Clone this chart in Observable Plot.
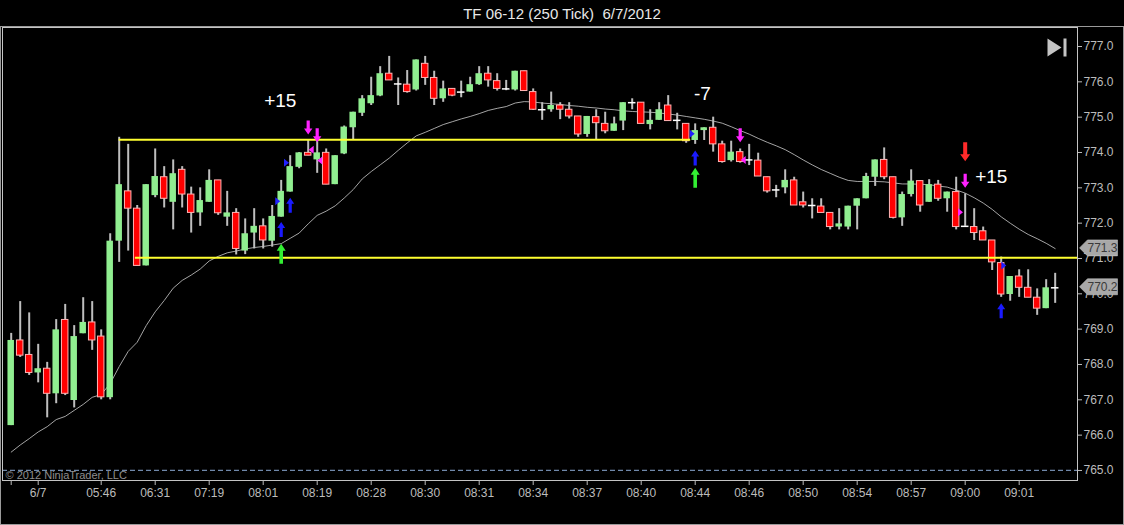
<!DOCTYPE html>
<html><head><meta charset="utf-8">
<script src="https://cdn.jsdelivr.net/npm/d3@7"></script>
<script src="https://cdn.jsdelivr.net/npm/@observablehq/plot@0.6"></script>
<style>
html,body{margin:0;padding:0;background:#000;}
#wrap{position:relative;width:1124px;height:525px;overflow:hidden;background:#000;}
#title{height:26px;line-height:27px;text-align:center;color:#e8e8e8;white-space:pre;font-size:15px;font-family:"Liberation Sans Narrow","Arial Narrow","Liberation Sans",sans-serif;}
#border{position:absolute;left:0;top:26px;width:1122px;height:497px;border:1px solid #9a9a9a;pointer-events:none;}
</style></head><body>
<div id="wrap"><div id="title">TF 06-12 (250 Tick)  6/7/2012</div><div id="chart"></div><div id="border"></div></div>
<script>
const open = [766.27,768.68,768.27,767.76,767.88,767.17,769.26,766.98,768.87,769.19,768.79,767.06,771.49,772.90,772.41,770.79,772.78,773.30,772.59,773.51,772.81,772.29,772.59,773.21,772.17,772.29,771.21,771.72,771.91,771.49,772.17,772.88,773.58,773.99,773.79,773.99,773.09,773.96,774.70,775.11,775.38,775.60,776.23,775.94,775.92,775.77,776.51,776.11,775.52,775.80,775.71,775.71,775.92,776.23,776.02,775.80,775.77,776.30,775.71,775.21,775.21,775.33,775.21,775.02,774.51,775.00,774.81,774.60,774.89,775.41,775.41,774.79,774.91,775.33,774.91,774.81,774.34,774.62,774.70,774.23,773.77,774.01,773.79,773.77,773.30,772.94,773.00,773.21,772.59,772.50,772.47,772.29,771.89,771.89,772.48,772.69,773.30,773.79,773.30,772.15,772.81,773.19,772.59,773.09,772.69,772.88,771.91,771.89,771.77,771.51,770.87,769.98,770.49,770.17,769.89,769.58,770.17];
const high = [768.88,769.78,769.46,768.57,768.06,769.27,769.70,769.10,769.89,769.78,768.98,771.70,774.43,774.23,772.50,773.09,774.10,773.60,773.79,773.60,773.02,773.00,773.51,773.21,772.90,772.41,772.12,772.41,772.12,772.50,773.21,773.91,774.00,774.34,774.34,774.10,773.91,774.75,775.14,775.61,776.13,776.43,776.72,776.11,776.32,776.62,776.72,776.30,776.02,775.80,776.02,776.13,776.43,776.43,776.23,776.04,776.30,776.30,775.80,775.41,775.71,775.41,775.41,775.02,775.02,775.21,775.14,775.00,775.41,775.52,775.41,775.21,775.41,775.61,775.11,774.81,774.81,774.70,775.00,774.32,774.32,774.10,774.23,773.98,773.30,773.07,773.51,773.30,772.88,772.69,772.69,772.29,772.41,772.48,772.69,773.41,773.79,774.13,773.30,772.88,773.51,773.19,773.23,773.21,772.88,773.30,772.83,772.41,771.89,771.51,771.04,770.49,770.68,770.68,770.14,770.40,770.58];
const low = [766.27,768.20,767.69,767.48,766.49,766.89,767.12,766.77,768.87,768.40,767.00,767.00,770.89,771.21,770.79,770.79,772.72,772.43,771.81,772.43,771.72,771.91,772.59,772.22,771.91,771.10,771.11,771.27,771.27,771.32,772.17,772.88,773.54,773.91,773.41,773.09,773.09,773.94,774.36,775.02,775.33,775.58,776.04,775.33,775.68,775.74,775.90,775.33,775.42,775.58,775.55,775.71,775.90,775.85,775.74,775.75,775.74,775.74,775.19,774.91,775.14,774.93,774.95,774.43,774.43,774.34,774.53,774.60,774.62,775.21,774.81,774.64,774.91,774.89,774.64,774.26,774.23,774.34,774.01,773.70,773.73,773.70,773.63,773.32,772.85,772.72,772.83,772.50,772.43,772.12,772.29,771.81,771.81,771.81,771.81,772.69,773.04,773.23,772.12,771.91,772.74,772.31,772.59,772.62,772.31,771.81,771.91,771.51,771.51,770.66,769.90,769.79,769.90,769.89,769.39,769.58,769.73];
const close = [768.68,768.25,767.76,767.88,767.17,768.98,767.17,768.79,769.19,768.68,767.07,771.49,773.09,772.41,770.79,773.09,773.32,772.69,773.40,772.81,772.29,772.64,773.21,772.28,772.29,771.27,771.70,771.91,771.51,772.19,772.90,773.60,773.99,773.91,773.99,773.09,773.91,774.72,775.14,775.52,775.61,776.23,776.04,775.94,775.71,776.62,776.11,775.52,775.80,775.61,775.71,775.92,776.23,776.04,775.80,775.80,776.30,775.74,775.21,775.21,775.33,775.21,775.02,774.51,775.02,774.83,774.60,774.81,775.41,775.41,774.81,774.91,775.21,774.89,774.91,774.32,774.62,774.70,774.23,773.73,774.01,773.73,773.79,773.32,772.90,772.94,773.21,772.50,772.50,772.50,772.29,771.89,771.98,772.48,772.69,773.32,773.79,773.30,772.15,772.81,773.19,772.50,773.09,772.69,772.88,771.89,771.91,771.72,771.51,770.89,769.98,770.49,770.17,769.89,769.58,770.17,770.17];
const sma = [765.52,765.72,765.90,766.09,766.24,766.44,766.53,766.70,766.87,767.07,767.15,767.46,767.94,768.37,768.63,769.10,769.49,769.81,770.16,770.38,770.53,770.70,770.93,771.06,771.16,771.21,771.27,771.31,771.34,771.38,771.42,771.57,771.72,771.98,772.22,772.34,772.49,772.71,772.95,773.25,773.46,773.65,773.84,774.06,774.27,774.47,774.57,774.68,774.79,774.87,774.95,775.02,775.10,775.19,775.25,775.30,775.40,775.44,775.43,775.40,775.38,775.36,775.33,775.31,775.28,775.26,775.23,775.21,775.18,775.16,775.15,775.14,775.12,775.09,775.06,775.02,774.98,774.94,774.89,774.83,774.73,774.62,774.52,774.40,774.29,774.19,774.08,773.94,773.79,773.65,773.52,773.41,773.30,773.21,773.18,773.18,773.18,773.17,773.14,773.11,773.11,773.10,773.09,773.05,773.02,772.94,772.85,772.72,772.57,772.39,772.18,772.00,771.83,771.68,771.56,771.43,771.28];

const xTickBars = [0,3,10,16,22,28,34,40,46,52,58,64,70,76,82,88,94,100,106,112];
const xTickLabels = ["","6/7","05:46","06:31","07:19","08:01","08:19","08:28","08:30","08:31","08:34","08:37","08:40","08:44","08:46","08:50","08:54","08:57","09:00","09:01"];
const yTicks = [765,766,767,768,769,770,771,772,773,774,775,776,777];

const levelPrice = [774.36, 771.02];
const levelFrom = [12, 13.8];
const levelTo = [75.5, 118.48];

const greenUpBar = [30, 76];
const greenUpPrice = [771.42, 773.57];
const blueUpBar = [30, 31, 76, 110];
const blueUpPrice = [772.03, 772.72, 774.06, 769.73];
const magentaDownBar = [33, 34, 81, 106];
const magentaDownPrice = [774.51, 774.29, 774.29, 773.00];
const redDownBar = [106];
const redDownPrice = [773.75];
const blueTriBar = [29.62, 30.59, 75.67, 110.29];
const blueTriPrice = [772.62, 773.71, 774.53, 770.80];
const magTriLeftBar = [33.33, 34.29, 81.33];
const magTriLeftPrice = [774.08, 773.77, 773.79];
const magTriRightBar = [105.48];
const magTriRightPrice = [772.31];

const noteText = ["+15", "-7", "+15"];
const noteBar = [29.9, 76.8, 108.9];
const notePrice = [775.47, 775.67, 773.32];

const tagValues = [771.3, 770.2];
const copyright = "© 2012 NinjaTrader, LLC";

const bars = open.map((o, i) => ({i, open: o, high: high[i], low: low[i], close: close[i], sma: sma[i]}));
const up = bars.filter(d => d.close > d.open);
const down = bars.filter(d => d.close < d.open);
const doji = bars.filter(d => d.close === d.open);
const levels = levelPrice.map((p, k) => ({p, a: levelFrom[k], b: levelTo[k]}));
const pts = (bs, ps) => bs.map((b, k) => ({b, p: ps[k]}));
const notes = noteText.map((t, k) => ({t, b: noteBar[k], p: notePrice[k]}));

function arrow(dir, len, hh, hw, sw) {
  const s = dir === "up" ? 1 : -1;
  return {draw(ctx) {
    ctx.moveTo(0, 0);
    ctx.lineTo(hw, s * hh);
    ctx.lineTo(sw, s * hh);
    ctx.lineTo(sw, s * len);
    ctx.lineTo(-sw, s * len);
    ctx.lineTo(-sw, s * hh);
    ctx.lineTo(-hw, s * hh);
    ctx.closePath();
  }};
}
function tri(dir, w, h) {
  const s = dir === "right" ? 1 : -1;
  return {draw(ctx) {
    ctx.moveTo(s * w / 2, 0);
    ctx.lineTo(-s * w / 2, -h);
    ctx.lineTo(-s * w / 2, h);
    ctx.closePath();
  }};
}
const tagSymbol = {draw(ctx) {
  ctx.moveTo(2, 0); ctx.lineTo(10, -8); ctx.lineTo(40, -8); ctx.lineTo(40, 8); ctx.lineTo(10, 8); ctx.closePath();
}};
const skipSymbol = {draw(ctx) {
  ctx.moveTo(-10, -9); ctx.lineTo(4, 0); ctx.lineTo(-10, 9); ctx.closePath();
  ctx.moveTo(6, -9); ctx.lineTo(9, -9); ctx.lineTo(9, 9); ctx.lineTo(6, 9); ctx.closePath();
}};

const hw = 0.36;
const chart = Plot.plot({
  width: 1124,
  height: 499,
  marginTop: 1,
  marginBottom: 45,
  marginLeft: 2,
  marginRight: 47,
  style: {background: "#000", color: "#bcbcbc", fontFamily: "'Liberation Sans', Arial, sans-serif", fontSize: "12px"},
  x: {domain: [-0.967, 118.48]},
  y: {domain: [764.716, 777.538]},
  marks: [
    Plot.ruleY([765], {stroke: "#7088aa", strokeDasharray: "5,3", strokeWidth: 1.2}),
    Plot.text([copyright], {frameAnchor: "bottom-left", dx: 3, dy: -2, fill: "#8e8e8e", fontSize: 11, textAnchor: "start"}),
    Plot.line(bars, {x: "i", y: "sma", stroke: "#a4a4a4", strokeWidth: 1}),
    Plot.ruleX(bars, {x: "i", y1: "low", y2: "high", stroke: "#bebebe", strokeWidth: 2}),
    Plot.rect(up, {x1: d => d.i - hw, x2: d => d.i + hw, y1: "open", y2: "close", fill: "#90ee90"}),
    Plot.rect(down, {x1: d => d.i - hw, x2: d => d.i + hw, y1: "open", y2: "close", fill: "#ff0000", stroke: "#ffb4b4", strokeWidth: 1}),
    Plot.ruleY(doji, {x1: d => d.i - 0.42, x2: d => d.i + 0.42, y: "open", stroke: "#ffffff", strokeWidth: 1.5}),
    Plot.ruleY(levels, {x1: "a", x2: "b", y: "p", stroke: "#ffff30", strokeWidth: 2}),
    Plot.dot(pts(greenUpBar, greenUpPrice), {x: "b", y: "p", r: 5, symbol: arrow("up", 20, 7, 4.5, 1.8), fill: "#33ee33", stroke: "none"}),
    Plot.dot(pts(blueUpBar, blueUpPrice), {x: "b", y: "p", r: 5, symbol: arrow("up", 15, 6, 4, 1.6), fill: "#1a1aff", stroke: "none"}),
    Plot.dot(pts(magentaDownBar, magentaDownPrice), {x: "b", y: "p", r: 5, symbol: arrow("down", 14, 6, 4.2, 1.6), fill: "#ff22ff", stroke: "none"}),
    Plot.dot(pts(redDownBar, redDownPrice), {x: "b", y: "p", r: 5, symbol: arrow("down", 19, 7, 5, 2), fill: "#ff2a2a", stroke: "none"}),
    Plot.dot(pts(blueTriBar, blueTriPrice), {x: "b", y: "p", r: 3, symbol: tri("right", 5, 4), fill: "#2020ff", stroke: "none"}),
    Plot.dot(pts(magTriLeftBar, magTriLeftPrice), {x: "b", y: "p", r: 3, symbol: tri("left", 5, 4), fill: "#ff22ff", stroke: "none"}),
    Plot.dot(pts(magTriRightBar, magTriRightPrice), {x: "b", y: "p", r: 3, symbol: tri("right", 5, 4), fill: "#ff22ff", stroke: "none"}),
    Plot.text(notes, {x: "b", y: "p", text: "t", fill: "#ffffff", fontSize: 19, textAnchor: "middle"}),
    Plot.frame({stroke: "#c4c4c4"}),
    Plot.axisX({ticks: xTickBars, tickFormat: d => xTickLabels[xTickBars.indexOf(d)], tickSize: 5, tickPadding: 3, stroke: "#bcbcbc", fill: "#bcbcbc"}),
    Plot.axisY({anchor: "right", ticks: yTicks, tickFormat: d => d.toFixed(1), tickSize: 4, tickPadding: 2, stroke: "#bcbcbc", fill: "#bcbcbc"}),
    Plot.dot(tagValues, {y: d => d, frameAnchor: "right", r: 5, symbol: tagSymbol, fill: "#a8a8a8", stroke: "#d0d0d0", strokeWidth: 0.5}),
    Plot.text(tagValues, {y: d => d, frameAnchor: "right", dx: 25, text: d => d.toFixed(1), textAnchor: "middle", fill: "#3a3a3a", fontSize: 12}),
    Plot.dot([0], {frameAnchor: "top-right", dx: -20, dy: 20, r: 5, symbol: skipSymbol, fill: "#c4c4c4", stroke: "none"})
  ]
});
document.getElementById("chart").appendChild(chart);
</script>
</body></html>
